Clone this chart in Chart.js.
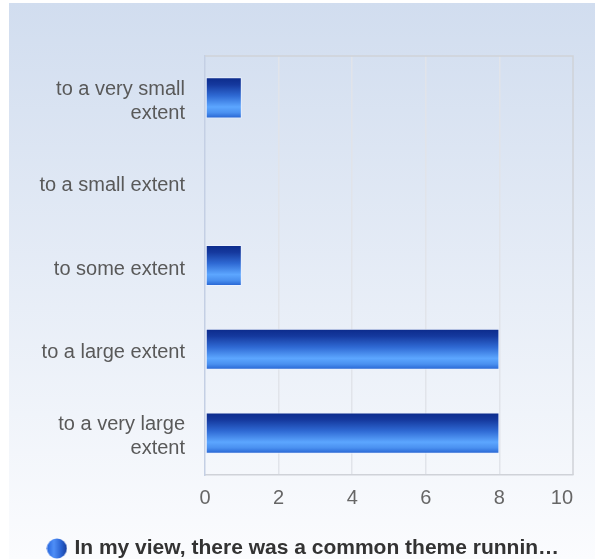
<!DOCTYPE html>
<html>
<head>
<meta charset="utf-8">
<script src="https://cdn.jsdelivr.net/npm/chart.js@4"></script>
<style>
  html, body { margin: 0; padding: 0; overflow: hidden; background: #fff; }
  #wrap { width: 595px; height: 569px; }
</style>
</head>
<body>
<div id="wrap"><canvas id="bar-chart"></canvas></div>
<script>
// answers per option, top to bottom
var categories = [
    ['to a very small', 'extent'],
    'to a small extent',
    'to some extent',
    'to a large extent',
    ['to a very large', 'extent']
];
var answers = [1, 0, 1, 8, 8];
var xTicks = [0, 2, 4, 6, 8, 10];
var seriesName = 'In my view, there was a common theme runnin\u2026';

Chart.defaults.font.family = "'Liberation Sans', Arial, sans-serif";

// blue glossy bar, gradient runs across the bar thickness
function barFill(ctx) {
    var chart = ctx.chart;
    var y = chart.scales.y;
    if (!y || ctx.dataIndex === undefined) return '#2f6bd6';
    var c = y.getPixelForValue(ctx.dataIndex);
    var h = (y.height / categories.length) * 0.49;
    if (!isFinite(c) || !isFinite(h) || h <= 0) return '#2f6bd6';
    var g = chart.ctx.createLinearGradient(0, c - h / 2, 0, c + h / 2);
    g.addColorStop(0, '#0b2a8a');
    g.addColorStop(0.18, '#15399e');
    g.addColorStop(0.45, '#2f6ad4');
    g.addColorStop(0.72, '#5ca6ff');
    g.addColorStop(0.86, '#4a90f0');
    g.addColorStop(1, '#2360d0');
    return g;
}

// legend dot
var dot = document.createElement('canvas');
dot.width = 21;
dot.height = 21;
(function(){
    var d = dot.getContext('2d');
    var g = d.createLinearGradient(0, 0, 21, 0);
    g.addColorStop(0, '#2463dc');
    g.addColorStop(0.35, '#4f8ff7');
    g.addColorStop(0.7, '#2a63d2');
    g.addColorStop(1, '#163a98');
    d.fillStyle = g;
    d.beginPath();
    d.arc(10.5, 10.5, 10, 0, Math.PI * 2);
    d.fill();
})();

var backdrop = {
    id: 'backdrop',
    beforeDraw: function(chart) {
        var c = chart.ctx;
        var g = c.createLinearGradient(0, 3, 0, 559);
        g.addColorStop(0, '#d1ddef');
        g.addColorStop(1, '#fbfcfe');
        c.save();
        c.fillStyle = g;
        c.fillRect(9, 3, chart.width - 9, chart.height - 3);
        c.restore();
    }
};

var plotFrame = {
    id: 'plotFrame',
    beforeDatasetsDraw: function(chart) {
        var a = chart.chartArea, c = chart.ctx;
        c.save();
        c.strokeStyle = '#cfd2d8';
        c.lineWidth = 1.5;
        c.beginPath();
        c.moveTo(a.left, a.top);
        c.lineTo(a.right, a.top);
        c.lineTo(a.right, a.bottom);
        c.stroke();
        c.restore();
    }
};

new Chart(document.getElementById('bar-chart'), {
    type: 'bar',
    data: {
        labels: categories,
        datasets: [{
            label: seriesName,
            data: answers,
            backgroundColor: barFill,
            borderColor: 'rgba(235,242,255,0.9)',
            borderWidth: 1,
            borderSkipped: false,
            barPercentage: 1,
            categoryPercentage: 0.49
        }]
    },
    options: {
        indexAxis: 'y',
        responsive: true,
        maintainAspectRatio: false,
        animation: false,
        layout: {
            padding: { top: 56, right: 22, left: 36, bottom: 0 }
        },
        scales: {
            x: {
                min: xTicks[0],
                max: xTicks[xTicks.length - 1],
                ticks: {
                    stepSize: 2,
                    padding: 11,
                    color: '#666',
                    font: { size: 20 },
                    maxRotation: 0,
                    callback: function(v) {
                        // last label sits inside the plot edge
                        return v === xTicks[xTicks.length - 1] ? v + '    ' : '' + v;
                    }
                },
                grid: {
                    drawTicks: false,
                    lineWidth: 1.5,
                    color: function(ctx) {
                        return (ctx.index > 0 && ctx.index < xTicks.length - 1) ? '#e1e4ea' : 'rgba(0,0,0,0)';
                    }
                },
                border: { color: '#cfd2d8', width: 1.5 },
                afterFit: function(scale) {
                    scale.height = 53;
                    scale.paddingLeft = 0;
                    scale.paddingRight = 0;
                }
            },
            y: {
                ticks: {
                    padding: 20,
                    labelOffset: 3.5,
                    color: '#595959',
                    font: { size: 20 }
                },
                grid: { display: false, drawTicks: false },
                border: { color: '#c4cfe4', width: 1.5 },
                afterFit: function(scale) { scale.width = 169; }
            }
        },
        plugins: {
            legend: {
                position: 'bottom',
                labels: {
                    usePointStyle: true,
                    pointStyle: dot,
                    boxWidth: 14,
                    boxHeight: 14,
                    padding: 10,
                    color: '#333',
                    font: { size: 21, weight: 'bold' }
                }
            },
            tooltip: { enabled: false }
        }
    },
    plugins: [backdrop, plotFrame]
});
</script>
</body>
</html>
